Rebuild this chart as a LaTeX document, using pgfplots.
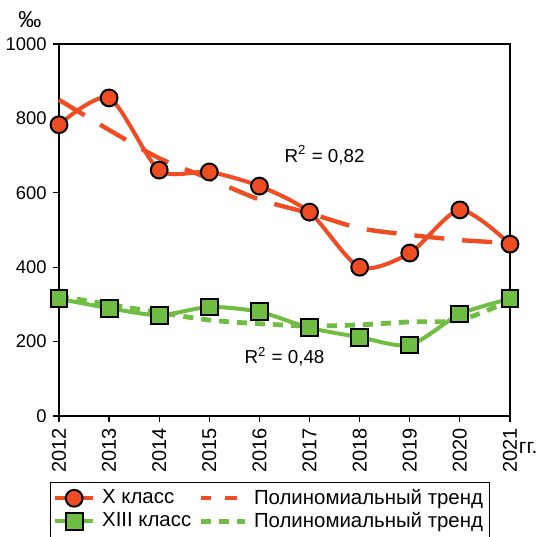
\documentclass[border=0pt]{standalone}
\usepackage{fontspec}
\setmainfont{Liberation Sans}
\usepackage{pgfplots}
\pgfplotsset{compat=1.18}
\definecolor{cred}{RGB}{240,76,36}
\definecolor{cgreen}{RGB}{112,189,68}
\begin{document}
\fontsize{9}{11}\selectfont
\begin{tikzpicture}
\path[use as bounding box] (-29.5pt,-60pt) rectangle (242.5pt,208pt);
\begin{axis}[
  scale only axis, width=225.5pt, height=186pt,
  xmin=2012, xmax=2021, ymin=0, ymax=1000,
  xtick={2012,...,2021}, ytick={0,200,...,1000},
  /pgf/number format/assume math mode=true,
  xticklabel style={rotate=90, anchor=east, font=\fontsize{10}{12}\selectfont, /pgf/number format/set thousands separator={}},
  yticklabel style={font=\fontsize{9.2}{11}\selectfont, /pgf/number format/set thousands separator={}},
  tick align=outside, xtick pos=bottom, ytick pos=left,
  major tick length=3pt,
  axis line style={line width=0.6pt},
  every tick/.style={black, line width=0.6pt},
  clip=false,
  legend columns=2,
  legend cell align=left,
  legend style={at={(0.468,-0.177)}, anchor=north, draw=black, line width=0.5pt,
    font=\fontsize{10.2}{12}\selectfont, row sep=-1.5pt, column sep=1.5pt, inner sep=1.5pt},
  legend image code/.code={\draw[#1] (0pt,0pt) -- (19pt,0pt) plot coordinates {(9.5pt,0pt)};},
]
\addplot[cred, line width=2pt, smooth, tension=0.45, mark=*, mark size=4.2pt,
  mark options={fill=cred, draw=black, line width=1pt, solid}]
  coordinates {(2012,783) (2013,855) (2014,661) (2015,656) (2016,618) (2017,548) (2018,400) (2019,438) (2020,554) (2021,462)};
\addlegendentry{X класс}
\addplot[cred, line width=2.2pt, smooth, dash pattern=on 15pt off 9pt, legend image code/.code={\draw[cred, line width=2.2pt] (0pt,0pt) -- (5pt,0pt) (12pt,0pt) -- (18pt,0pt);}]
  coordinates {(2012,850) (2013,769) (2014,693) (2015,638) (2016,582) (2017,545) (2018,505) (2019,487) (2020,473) (2021,465)};
\addlegendentry{Полиномиальный тренд}
\addplot[cgreen, line width=2pt, smooth, tension=0.45, mark=square*, mark size=4.2pt,
  mark options={fill=cgreen, draw=black, line width=1pt, solid}]
  coordinates {(2012,315) (2013,290) (2014,271) (2015,293) (2016,280) (2017,237) (2018,212) (2019,191) (2020,274) (2021,315)};
\addlegendentry{XIII класс}
\addplot[cgreen, line width=2.4pt, smooth, dash pattern=on 5pt off 4pt, legend image code/.code={\draw[cgreen, line width=2.4pt, dash pattern=on 5pt off 4pt] (0pt,0pt) -- (22pt,0pt);}]
  coordinates {(2012,322) (2013,300) (2014,278) (2015,258) (2016,248) (2017,242) (2018,245) (2019,253) (2020,258) (2021,310)};
\addlegendentry{Полиномиальный тренд}
\node[font=\fontsize{9.4}{11}\selectfont] at (axis cs:2017.3,702) {R$^{\mathrm{2}}$ = 0,82};
\node[font=\fontsize{9.4}{11}\selectfont] at (axis cs:2016.5,160) {R$^{\mathrm{2}}$ = 0,48};
\node[anchor=west, font=\fontsize{10.5}{12}\selectfont, inner sep=0pt] at (axis cs:2021.17,-85) {гг.};
\node[font=\fontsize{11.5}{13}\selectfont, inner sep=0pt] at ([xshift=-14.5pt,yshift=12pt]rel axis cs:0,1) {‰};
\end{axis}
\end{tikzpicture}
\end{document}
